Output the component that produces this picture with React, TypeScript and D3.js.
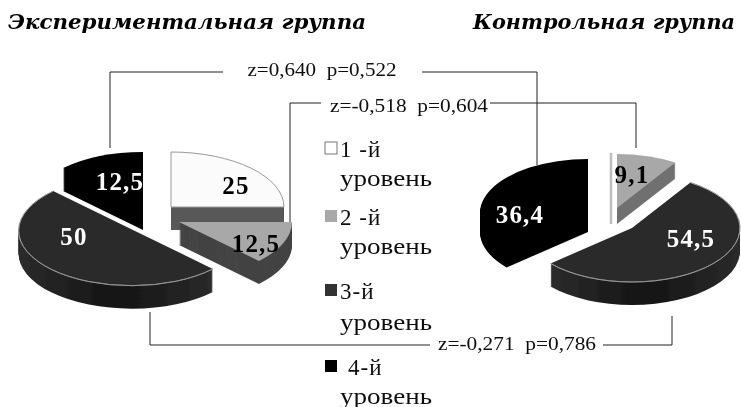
import React from "react";
import * as d3 from "d3";

const levels = ["1 -й", "2 -й", "3-й", "4-й"];
const experimental = [25, 12.5, 50, 12.5];
const control = [0, 9.1, 54.5, 36.4];
const experimentalLabels = ["25", "12,5", "50", "12,5"];
const controlLabels = ["", "9,1", "54,5", "36,4"];
const topColors = ["#fbfbfb", "#a8a8a8", "#2c2c2c", "#000000"];
const expSideColors = ["#585858", "#444444", "url(#wall)", "#000000"];
const ctlSideColors = ["#bdbdbd", "#707070", "url(#wall)", "#000000"];

const expOrigin = [[171, 207], [179, 222], [133, 230], [143, 207]];
const ctlOrigin = [[611, 207], [617, 208], [632, 228], [588, 213]];
const expDepth = [23, 23, 23, 23];
const ctlDepth = [17, 16, 23, 19];
const expLabelPos = [[65, -22], [77, 21], [-59, 6], [-23, -26]];
const ctlLabelPos = [[0, 0], [15, -34], [59, 10], [-68, 1]];
const expOrder = [3, 0, 1, 2];
const ctlOrder = [0, 1, 3, 2];

const serif = "'Liberation Serif', serif";
const pie = d3.pie<number>().sort(null).value((d) => d);
const unitArc = d3.arc<any>().innerRadius(0).outerRadius(1);
const rimArc = d3.arc<any>().innerRadius(1).outerRadius(1);

function Pie3D({ values, labels, origins, labelPos, order, rx, ry, depths, sideColors }: any) {
  const arcs = pie(values);
  return (
    <g>
      {order.map((i: number) => {
        const a = arcs[i];
        const [ox, oy] = origins[i];
        if (values[i] === 0) {
          return (
            <line key={i} x1={ox} x2={ox} y1={oy - ry} y2={oy + depths[i]} stroke={sideColors[i]} strokeWidth={2.5} />
          );
        }
        const d = unitArc(a) as string;
        return (
          <g key={i}>
            {d3.range(depths[i], 0, -1).map((k) => (
              <path key={k} d={d} transform={`translate(${ox},${oy + k}) scale(${rx},${ry})`} fill={sideColors[i]} />
            ))}
            <path
              d={d}
              transform={`translate(${ox},${oy}) scale(${rx},${ry})`}
              fill={topColors[i]}
              stroke={i === 0 ? "#9a9a9a" : "none"}
              strokeWidth={1}
              vectorEffect="non-scaling-stroke"
            />
            {i === 2 && (
              <path
                d={rimArc(a) as string}
                transform={`translate(${ox},${oy}) scale(${rx},${ry})`}
                fill="none"
                stroke="#9c9c9c"
                strokeWidth={0.8}
                vectorEffect="non-scaling-stroke"
              />
            )}
          </g>
        );
      })}
      {order.map((i: number) =>
        labels[i] ? (
          <text
            key={i}
            x={origins[i][0] + labelPos[i][0]}
            y={origins[i][1] + labelPos[i][1]}
            textAnchor="middle"
            dominantBaseline="central"
            fontFamily={serif}
            fontWeight="bold"
            fontSize={25}
            letterSpacing={1.2}
            fill={i >= 2 ? "#ffffff" : "#000000"}
          >
            {labels[i]}
          </text>
        ) : null
      )}
    </g>
  );
}

const brackets = [
  { text: "z=0,640  p=0,522", x: 322, y: 69, w: 149, path: "M110,148V72H223M422,72H537V165" },
  { text: "z=-0,518  p=0,604", x: 409, y: 105, w: 158, path: "M290,228V103H321M490,103H636V148" },
  { text: "z=-0,271  p=0,786", x: 517, y: 343, w: 158, path: "M150,312V345H430M603,345H672V316" },
];
const legendY = [[149, 178], [217, 246], [291, 322], [367, 396]];
const legendFill = ["#ffffff", "#a8a8a8", "#333333", "#000000"];
const legendTextX = [340, 340, 340, 348];

export default function App() {
  return (
    <svg
      width={741}
      height={407}
      style={{ position: "absolute", left: 0, top: 0, background: "#fff" }}
    >
      <defs>
        <linearGradient id="wall" x1="0" x2="1" y1="0" y2="0">
          <stop offset="0" stopColor="#2b2b2b" />
          <stop offset="0.5" stopColor="#141414" />
          <stop offset="1" stopColor="#2a2a2a" />
        </linearGradient>
        <filter id="soft" x="0" y="0" width="741" height="407" filterUnits="userSpaceOnUse">
          <feGaussianBlur stdDeviation="0.4" />
        </filter>
      </defs>
      <g filter="url(#soft)">
        <text x={8} y={29} fontFamily="'DejaVu Serif', serif" fontWeight="bold" fontStyle="italic" fontSize={20} textLength={358} lengthAdjust="spacingAndGlyphs">
          Экспериментальная группа
        </text>
        <text x={473} y={29} fontFamily="'DejaVu Serif', serif" fontWeight="bold" fontStyle="italic" fontSize={20} textLength={262} lengthAdjust="spacingAndGlyphs">
          Контрольная группа
        </text>

        {brackets.map((b) => (
          <g key={b.text}>
            <path d={b.path} fill="none" stroke="#222" strokeWidth={1} />
            <text x={b.x - b.w / 2} y={b.y} textLength={b.w} lengthAdjust="spacingAndGlyphs" dominantBaseline="central" fontFamily={serif} fontSize={19} fill="#111" style={{ whiteSpace: "pre" }}>
              {b.text}
            </text>
          </g>
        ))}

        <Pie3D values={experimental} labels={experimentalLabels} origins={expOrigin} labelPos={expLabelPos} order={expOrder} rx={113} ry={55} depths={expDepth} sideColors={expSideColors} />
        <Pie3D values={control} labels={controlLabels} origins={ctlOrigin} labelPos={ctlLabelPos} order={ctlOrder} rx={108} ry={54} depths={ctlDepth} sideColors={ctlSideColors} />

        {levels.map((l, i) => (
          <g key={l} fontFamily={serif} fontSize={23} fill="#111">
            <rect x={325} y={legendY[i][0] - 7} width={12} height={12} fill={legendFill[i]} stroke={i === 0 ? "#777" : "none"} />
            <text x={legendTextX[i]} y={legendY[i][0]} dominantBaseline="central" letterSpacing={1}>{l}</text>
            <text x={340} y={legendY[i][1]} dominantBaseline="central" textLength={92} lengthAdjust="spacingAndGlyphs">уровень</text>
          </g>
        ))}
      </g>
    </svg>
  );
}
